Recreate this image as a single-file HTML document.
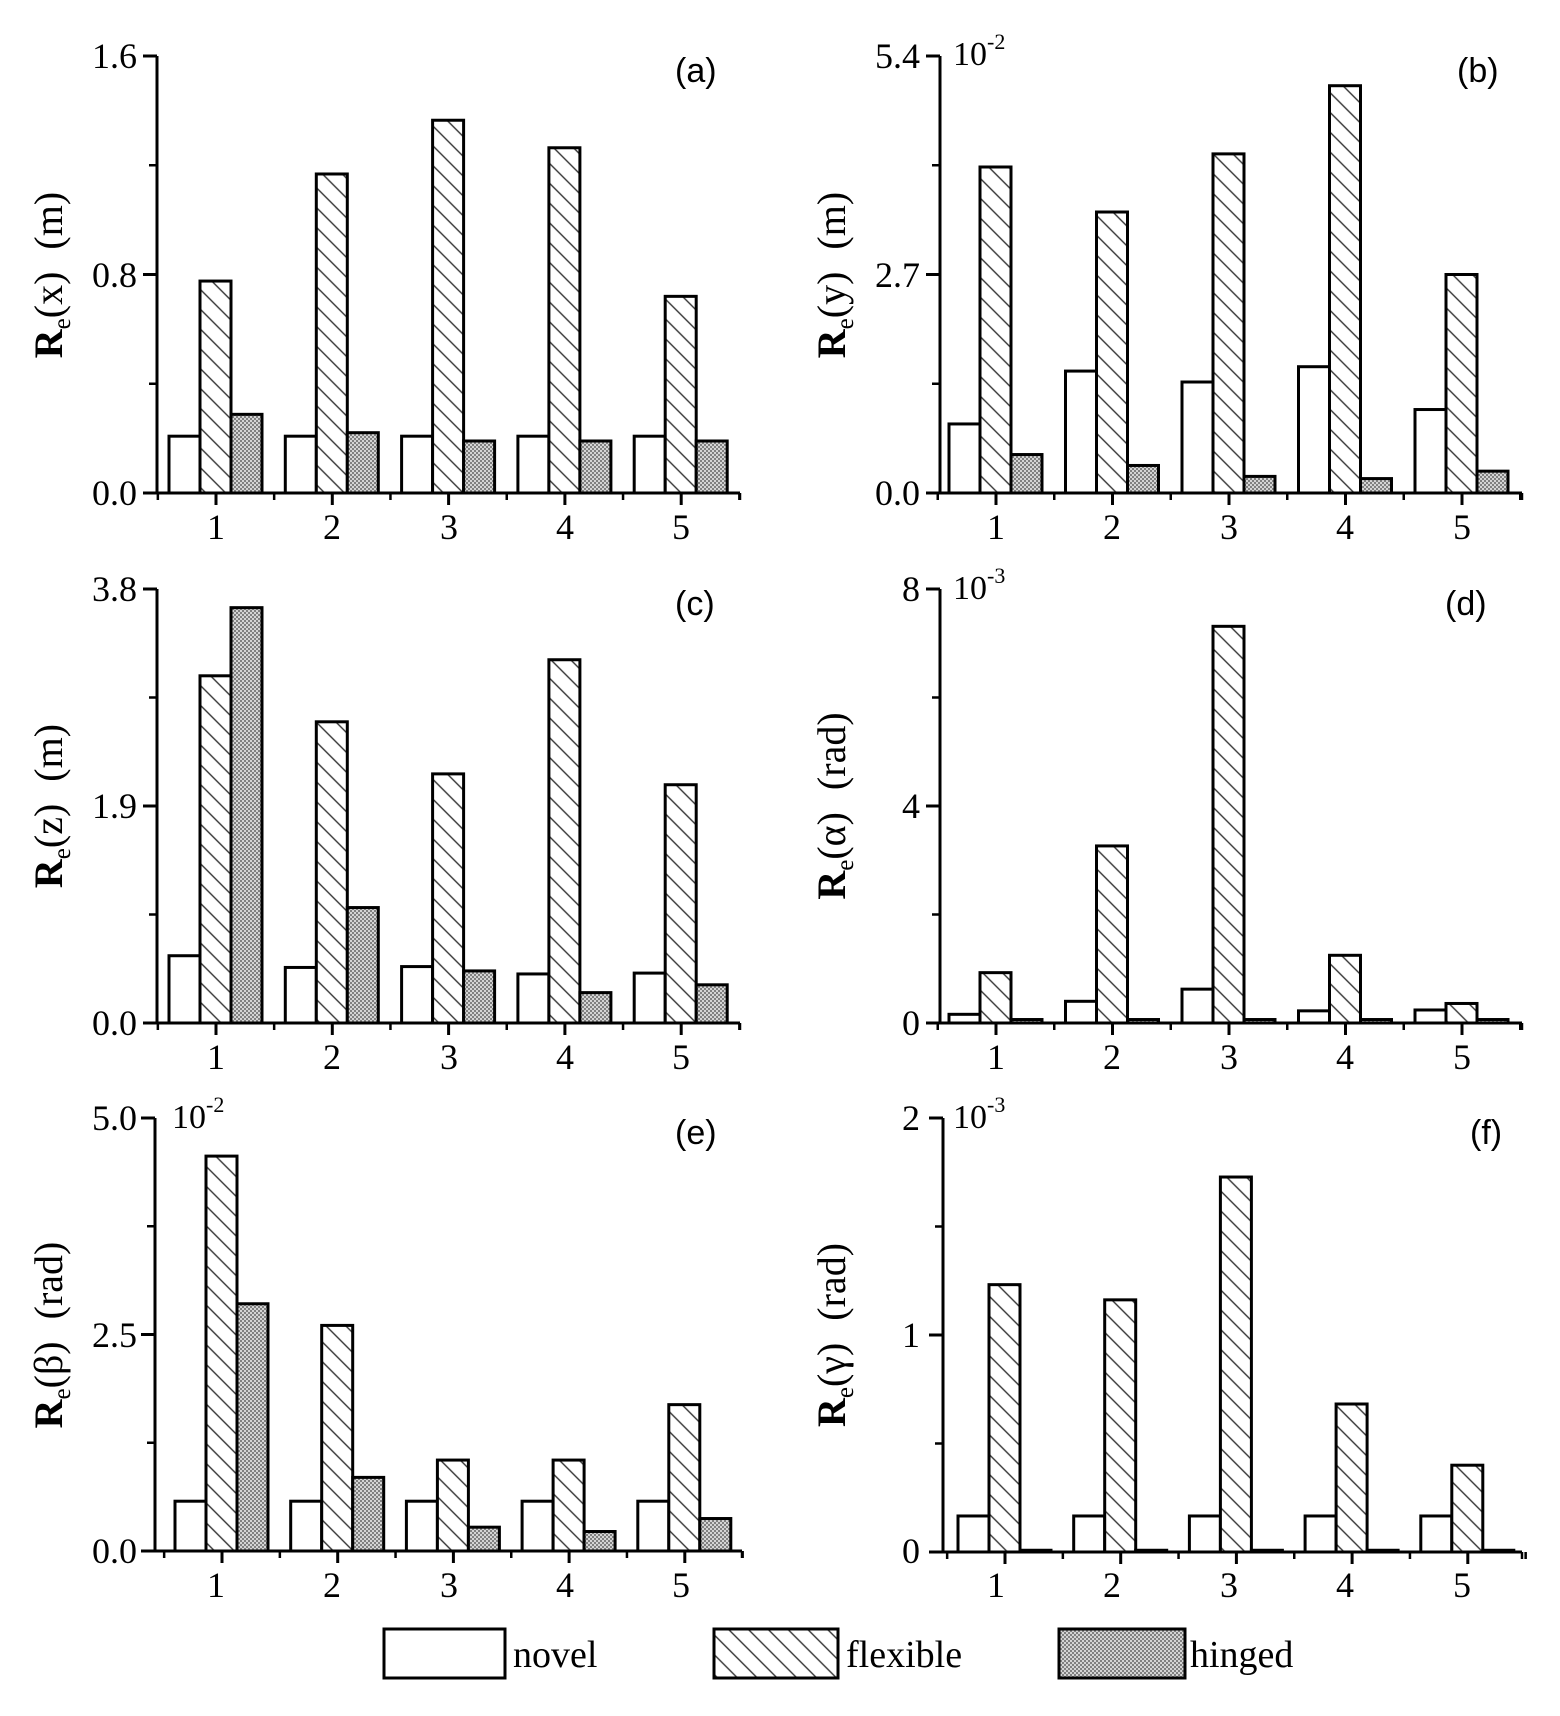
<!DOCTYPE html>
<html><head><meta charset="utf-8"><style>
html,body{margin:0;padding:0;background:#fff;}
svg{display:block;}
text{font-family:"Liberation Serif",serif;fill:#000;}
.s{font-family:"Liberation Sans",sans-serif;}
</style></head><body>
<svg id="c" width="1560" height="1716" viewBox="0 0 1560 1716" xmlns="http://www.w3.org/2000/svg">
<defs>
<pattern id="hatch" patternUnits="userSpaceOnUse" width="14" height="14" patternTransform="rotate(-45)">
<rect width="14" height="14" fill="#fff"/>
<line x1="7" y1="-1" x2="7" y2="15" stroke="#333" stroke-width="1.4"/>
</pattern>
<pattern id="dots" patternUnits="userSpaceOnUse" width="4" height="4">
<rect width="4" height="4" fill="#d4d4d4"/>
<rect width="2" height="2" fill="#808080"/>
<rect x="2" y="2" width="2" height="2" fill="#808080"/>
</pattern>
</defs>
<g id="bars"></g>

<g font-size="36" text-anchor="end" dominant-baseline="central">
<text x="137" y="56">1.6</text><text x="137" y="275">0.8</text><text x="137" y="493">0.0</text>
<text x="920" y="56">5.4</text><text x="920" y="275">2.7</text><text x="920" y="493">0.0</text>
<text x="137" y="589">3.8</text><text x="137" y="806">1.9</text><text x="137" y="1023">0.0</text>
<text x="920" y="589">8</text><text x="920" y="806">4</text><text x="920" y="1023">0</text>
<text x="137" y="1118">5.0</text><text x="137" y="1335">2.5</text><text x="137" y="1551">0.0</text>
<text x="920" y="1118">2</text><text x="920" y="1335">1</text><text x="920" y="1551">0</text>
</g>
<g font-size="36" text-anchor="middle">
<text x="216" y="539">1</text><text x="332" y="539">2</text><text x="449" y="539">3</text><text x="565" y="539">4</text><text x="681" y="539">5</text>
<text x="996" y="539">1</text><text x="1112" y="539">2</text><text x="1229" y="539">3</text><text x="1345" y="539">4</text><text x="1462" y="539">5</text>
<text x="216" y="1069">1</text><text x="332" y="1069">2</text><text x="449" y="1069">3</text><text x="565" y="1069">4</text><text x="681" y="1069">5</text>
<text x="996" y="1069">1</text><text x="1112" y="1069">2</text><text x="1229" y="1069">3</text><text x="1345" y="1069">4</text><text x="1462" y="1069">5</text>
<text x="216" y="1597">1</text><text x="332" y="1597">2</text><text x="449" y="1597">3</text><text x="565" y="1597">4</text><text x="681" y="1597">5</text>
<text x="996" y="1597">1</text><text x="1112" y="1597">2</text><text x="1229" y="1597">3</text><text x="1345" y="1597">4</text><text x="1462" y="1597">5</text>
</g>
<g font-size="34">
<text x="953" y="65">10<tspan font-size="22" dy="-16">-2</tspan></text>
<text x="953" y="599">10<tspan font-size="22" dy="-16">-3</tspan></text>
<text x="172" y="1128">10<tspan font-size="22" dy="-16">-2</tspan></text>
<text x="953" y="1128">10<tspan font-size="22" dy="-16">-3</tspan></text>
</g>
<g font-size="34">
<text class="s" x="675" y="82">(a)</text>
<text class="s" x="1457" y="82">(b)</text>
<text class="s" x="675" y="615">(c)</text>
<text class="s" x="1445" y="615">(d)</text>
<text class="s" x="675" y="1144">(e)</text>
<text class="s" x="1470" y="1144">(f)</text>
</g>
<g font-size="40" text-anchor="middle">
<text transform="translate(62,275) rotate(-90)"><tspan font-weight="bold">R</tspan><tspan font-size="25" dy="8">e</tspan><tspan dy="-8">(x)</tspan><tspan dx="22">(m)</tspan></text>
<text transform="translate(845,275) rotate(-90)"><tspan font-weight="bold">R</tspan><tspan font-size="25" dy="8">e</tspan><tspan dy="-8">(y)</tspan><tspan dx="22">(m)</tspan></text>
<text transform="translate(62,806) rotate(-90)"><tspan font-weight="bold">R</tspan><tspan font-size="25" dy="8">e</tspan><tspan dy="-8">(z)</tspan><tspan dx="22">(m)</tspan></text>
<text transform="translate(845,806) rotate(-90)"><tspan font-weight="bold">R</tspan><tspan font-size="25" dy="8">e</tspan><tspan dy="-8">(α)</tspan><tspan dx="22">(rad)</tspan></text>
<text transform="translate(62,1335) rotate(-90)"><tspan font-weight="bold">R</tspan><tspan font-size="25" dy="8">e</tspan><tspan dy="-8">(β)</tspan><tspan dx="22">(rad)</tspan></text>
<text transform="translate(845,1335) rotate(-90)"><tspan font-weight="bold">R</tspan><tspan font-size="25" dy="8">e</tspan><tspan dy="-8">(γ)</tspan><tspan dx="22">(rad)</tspan></text>
</g>
<g stroke="#000" stroke-width="3">
<rect x="384" y="1629" width="121" height="49" fill="#fff"/>
<rect x="714" y="1629" width="124" height="49" fill="url(#hatch)"/>
<rect x="1059" y="1629" width="126" height="49" fill="url(#dots)"/>
</g>
<g font-size="38">
<text x="513" y="1667">novel</text>
<text x="846" y="1667">flexible</text>
<text x="1190" y="1667">hinged</text>
</g>
</svg>
<script>
(function(){
var NS="http://www.w3.org/2000/svg",g=document.getElementById("bars");
function el(n,a){var e=document.createElementNS(NS,n);for(var k in a)e.setAttribute(k,a[k]);g.appendChild(e);return e;}
var P=[
 {ax:157,t0:216,st:116.3,end:740,top:56,base:493,nv:[.13,.13,.13,.13,.13],fl:[.485,.73,.853,.79,.45],hg:[.18,.138,.119,.119,.119]},
 {ax:940,t0:996,st:116.5,end:1522,top:56,base:493,nv:[.158,.279,.254,.289,.191],fl:[.746,.643,.776,.932,.50],hg:[.088,.063,.038,.033,.05]},
 {ax:157,t0:216,st:116.3,end:740,top:589,base:1023,nv:[.155,.128,.13,.113,.115],fl:[.80,.694,.574,.837,.549],hg:[.957,.266,.12,.07,.088]},
 {ax:940,t0:996,st:116.5,end:1522,top:589,base:1023,nv:[.02,.05,.078,.028,.03],fl:[.116,.408,.914,.156,.045],hg:[.008,.008,.008,.008,.008]},
 {ax:155,t0:222,st:115.7,end:742,top:1118,base:1551,nv:[.115,.115,.115,.115,.115],fl:[.912,.521,.21,.21,.338],hg:[.571,.17,.055,.045,.075]},
 {ax:943,t0:1005,st:115.7,end:1522,top:1118,base:1552,nv:[.083,.083,.083,.083,.083],fl:[.616,.581,.864,.341,.2],hg:[.004,.004,.004,.004,.004]}
];
P.forEach(function(p){
 var H=p.base-p.top;
 for(var i=0;i<5;i++){
  var t=p.t0+i*p.st;
  [[p.nv,"#fff",-47],[p.fl,"url(#hatch)",-16],[p.hg,"url(#dots)",15]].forEach(function(s){
   var h=s[0][i]*H;
   el("rect",{x:t+s[2],y:p.base-h,width:31,height:h,fill:s[1],stroke:"#000","stroke-width":3});
  });
  el("line",{x1:t,y1:p.base,x2:t,y2:p.base+12,stroke:"#000","stroke-width":3});
  if(i<4){var m=t+p.st/2;el("line",{x1:m,y1:p.base,x2:m,y2:p.base+7,stroke:"#000","stroke-width":2.5});}
 }
 var m0=p.t0-p.st/2;el("line",{x1:m0,y1:p.base,x2:m0,y2:p.base+7,stroke:"#000","stroke-width":2.5});
 var m5=p.t0+4.5*p.st;el("line",{x1:m5,y1:p.base,x2:m5,y2:p.base+7,stroke:"#000","stroke-width":2.5});
 el("line",{x1:p.ax,y1:p.top,x2:p.ax,y2:p.base,stroke:"#000","stroke-width":3});
 el("line",{x1:p.ax-14,y1:p.base,x2:p.end,y2:p.base,stroke:"#000","stroke-width":3});
 el("line",{x1:p.end,y1:p.base,x2:p.end,y2:p.base+7,stroke:"#000","stroke-width":2.5});
 [0,0.5,1].forEach(function(f){el("line",{x1:p.ax-14,y1:p.top+f*H,x2:p.ax,y2:p.top+f*H,stroke:"#000","stroke-width":3});});
 [0.25,0.75].forEach(function(f){el("line",{x1:p.ax-8,y1:p.top+f*H,x2:p.ax,y2:p.top+f*H,stroke:"#000","stroke-width":2.5});});
});
})();
</script>
</body></html>
